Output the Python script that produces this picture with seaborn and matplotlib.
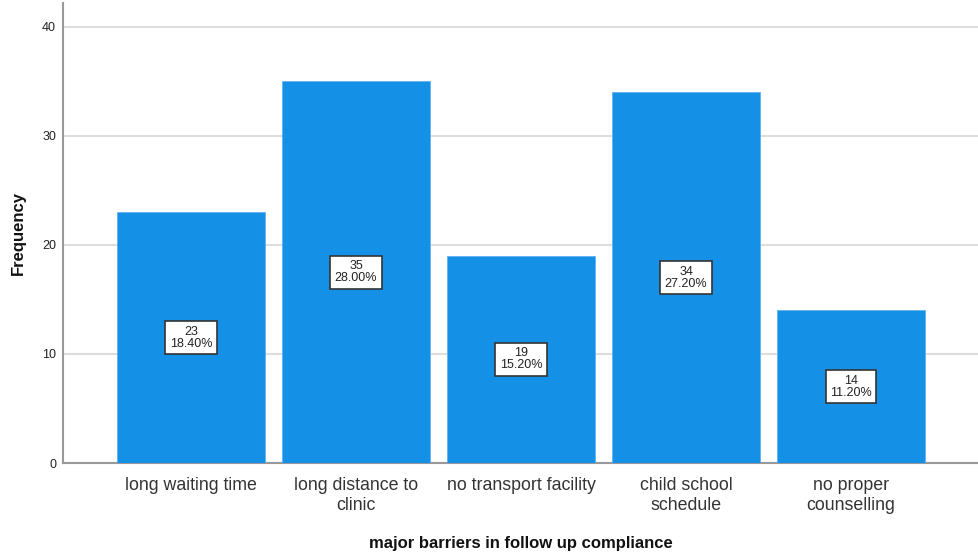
import matplotlib
matplotlib.use("Agg")
import matplotlib.pyplot as plt
import seaborn as sns
import pandas as pd

categories = ["long waiting time", "long distance to\nclinic", "no transport facility",
              "child school\nschedule", "no proper\ncounselling"]
counts = [23, 35, 19, 34, 14]
percents = ["18.40%", "28.00%", "15.20%", "27.20%", "11.20%"]
yticks = [0, 10, 20, 30, 40]

sns.set_theme(style="white")
plt.rcParams['font.family'] = ['Liberation Sans', 'DejaVu Sans']

df = pd.DataFrame({"cat": categories, "n": counts})

fig = plt.figure(figsize=(9.79, 5.53), dpi=100)
ax = fig.add_axes([0.0644, 0.1627, 0.9356, 0.832])
sns.barplot(data=df, x="cat", y="n", color="#1490E6", saturation=1, width=0.897,
            ax=ax, zorder=3, edgecolor="#5aaef0", linewidth=0.5)

ax.set_xlim(-0.776, 4.776)
ax.set_ylim(0, 42.2)
ax.set_yticks(yticks)
ax.set_yticklabels([str(t) for t in yticks], fontsize=9, color="#222222")
ax.tick_params(axis="y", length=0, pad=5)
ax.tick_params(axis="x", length=0, pad=10, labelsize=12.8, labelcolor="#333333")
for lbl in ax.get_xticklabels():
    lbl.set_linespacing(1.2)
ax.yaxis.grid(True, color="#dddddd", linewidth=1.5, zorder=0)
ax.set_axisbelow(True)

for s in ["top", "right"]:
    ax.spines[s].set_visible(False)
ax.spines["left"].set_color("#999999")
ax.spines["left"].set_linewidth(1.5)
ax.spines["bottom"].set_color("#999999")
ax.spines["bottom"].set_linewidth(1.5)

ax.set_xlabel("major barriers in follow up compliance", fontsize=12, fontweight="bold",
              labelpad=16, color="#111111")
ax.set_ylabel("Frequency", fontsize=12, fontweight="bold", labelpad=12, color="#111111")

for i, (c, p) in enumerate(zip(counts, percents)):
    ax.text(i, c / 2, f"{c}\n{p}", ha="center", va="center", fontsize=9,
            linespacing=1.0, color="#222222", zorder=5,
            bbox=dict(boxstyle="square,pad=0.35", facecolor="white",
                      edgecolor="#333333", linewidth=1.2))

fig.savefig("out.png", dpi=100)
